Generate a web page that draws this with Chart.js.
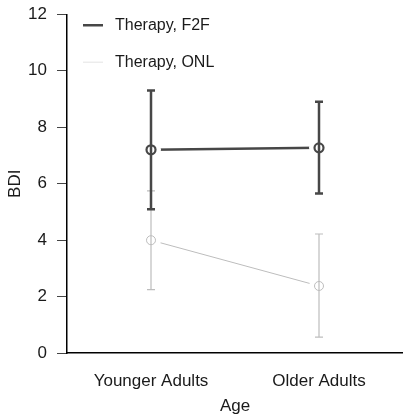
<!DOCTYPE html>
<html>
<head>
<meta charset="utf-8">
<script src="https://cdn.jsdelivr.net/npm/chart.js@4/dist/chart.umd.min.js"></script>
<style>
  html, body { margin:0; padding:0; background:#fff; }
  #wrap { width:403px; height:416px; }
</style>
</head>
<body>
<div id="wrap"><canvas id="c"></canvas></div>
<script>
// data
const ageGroups = ['Younger Adults', 'Older Adults'];
const f2fMean = [7.2, 7.27];
const f2fLow  = [5.1, 5.65];
const f2fHigh = [9.3, 8.9];
const onlMean = [4.0, 2.38];
const onlLow  = [2.25, 0.57];
const onlHigh = [5.75, 4.22];
const yTicks  = [0, 2, 4, 6, 8, 10, 12];

const F2F = '#474747', ONL = '#bdbdbd';
const FONT = 'Liberation Sans, Arial, sans-serif';
const FS = 17;

// error bars, drawn on top of everything
const errorBars = {
  id: 'errorBars',
  afterDatasetsDraw(chart){
    const {ctx, scales:{x, y}} = chart;
    const sets = [
      {low:onlLow, high:onlHigh, color:ONL, w:1.2, cap:4},
      {low:f2fLow, high:f2fHigh, color:F2F, w:2.5, cap:4}
    ];
    ctx.save();
    sets.forEach(s=>{
      ctx.strokeStyle = s.color; ctx.lineWidth = s.w;
      ageGroups.forEach((g,i)=>{
        const px = x.getPixelForValue(i);
        const y1 = y.getPixelForValue(s.low[i]), y2 = y.getPixelForValue(s.high[i]);
        ctx.beginPath();
        ctx.moveTo(px, y1); ctx.lineTo(px, y2);
        ctx.moveTo(px-s.cap, y1); ctx.lineTo(px+s.cap, y1);
        ctx.moveTo(px-s.cap, y2); ctx.lineTo(px+s.cap, y2);
        ctx.stroke();
      });
    });
    ctx.restore();
  }
};

// legend in the top left corner of the plot
const cornerLegend = {
  id: 'cornerLegend',
  afterDraw(chart){
    const {ctx, chartArea} = chart;
    const items = [
      {label:'Therapy, F2F', color:F2F, w:2.5},
      {label:'Therapy, ONL', color:'#ececec', w:1.5}
    ];
    ctx.save();
    ctx.font = '16px ' + FONT;
    ctx.textBaseline = 'middle';
    items.forEach((it,i)=>{
      const yy = chartArea.top + 11 + i*37;
      const xx = chartArea.left + 16;
      ctx.strokeStyle = it.color; ctx.lineWidth = it.w;
      ctx.beginPath(); ctx.moveTo(xx, yy); ctx.lineTo(xx+20, yy); ctx.stroke();
      ctx.fillStyle = '#1a1a1a';
      ctx.fillText(it.label, xx+32, yy);
    });
    ctx.restore();
  }
};

new Chart(document.getElementById('c'), {
  type: 'line',
  data: {
    labels: ageGroups,
    datasets: [
      // markers (on top)
      {label:'F2F marks', data:f2fMean, showLine:false, order:1,
       pointRadius:4.5, pointBorderWidth:2.2, pointBorderColor:F2F, pointBackgroundColor:'#fff'},
      {label:'ONL marks', data:onlMean, showLine:false, order:1,
       pointRadius:4.5, pointBorderWidth:1, pointBorderColor:ONL, pointBackgroundColor:'#fff'},
      // lines, with white points that leave a gap round the markers
      {label:'Therapy, F2F', data:f2fMean, order:2, borderColor:F2F, borderWidth:2.5,
       pointRadius:10, pointBorderWidth:0, pointBackgroundColor:'#fff'},
      {label:'Therapy, ONL', data:onlMean, order:3, borderColor:ONL, borderWidth:1,
       pointRadius:10, pointBorderWidth:0, pointBackgroundColor:'#fff'}
    ]
  },
  options: {
    responsive: true,
    maintainAspectRatio: false,
    animation: false,
    layout: { autoPadding: false, padding: { left: 0, right: 0, top: 0, bottom: -1 } },
    plugins: { legend:{display:false}, tooltip:{enabled:false} },
    scales: {
      x: {
        offset: true,
        grid: { display:true, drawOnChartArea:false, drawTicks:true, tickLength:16, color:'rgba(0,0,0,0)' },
        border: { display:true, color:'#000', width:1.5 },
        ticks: { color:'#1a1a1a', font:{family:FONT, size:FS}, padding:2 },
        title: { display:true, text:'Age', color:'#1a1a1a', font:{family:FONT, size:FS}, padding:{top:3, bottom:0} }
      },
      y: {
        min: 0, max: 12,
        afterBuildTicks(axis){ axis.ticks = yTicks.map(v=>({value:v})); },
        grid: { drawOnChartArea:false, drawTicks:true, tickLength:10, color:'#444', lineWidth:1 },
        border: { display:true, color:'#000', width:1.5 },
        ticks: { color:'#1a1a1a', font:{family:FONT, size:FS, lineHeight:0.5}, padding:10 },
        title: { display:true, text:'BDI', color:'#1a1a1a', font:{family:FONT, size:FS, lineHeight:1}, padding:{top:6.5, bottom:-5.4} }
      }
    }
  },
  plugins: [errorBars, cornerLegend]
});
</script>
</body>
</html>
